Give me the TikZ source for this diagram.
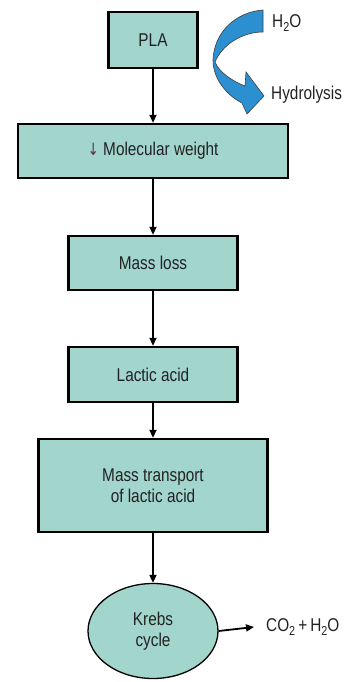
\documentclass[tikz,border=0pt]{standalone}
\usepackage{fontspec}
\setmainfont{Liberation Sans}[FakeStretch=0.83]
\usetikzlibrary{shapes.geometric,arrows.meta}
\definecolor{boxfill}{HTML}{A2D5CC}
\definecolor{ink}{HTML}{222222}
\definecolor{hydroblue}{HTML}{2B8FD0}
\definecolor{downred}{HTML}{5B3440}
\newcommand{\subtwo}{\raisebox{-0.35ex}{\fontsize{13}{13}\selectfont 2}}

\begin{document}
\begin{tikzpicture}[x=1pt,y=-1pt,
  stagebox/.style={draw=black, line width=2.4pt, fill=boxfill, text=ink,
    font=\fontsize{18.5}{21}\selectfont, align=center, inner sep=0pt},
  flow/.style={draw=black, line width=1.8pt, -{Triangle[length=8pt,width=7pt]}},
  plaintext/.style={text=ink, font=\fontsize{18.5}{21}\selectfont, inner sep=0pt, anchor=west}]

\useasboundingbox (0,0) rectangle (350,682);

% process stages
\node[stagebox, minimum width=89pt, minimum height=56pt] (pla) at (153,40) {PLA};
\node[stagebox, minimum width=270pt, minimum height=54pt] (mw) at (153,151)
  {{\color{downred}\fontspec{DejaVu Sans}[FakeStretch=0.8]\fontsize{17}{20}\selectfont ↓} Molecular weight};
\node[stagebox, minimum width=169pt, minimum height=54pt] (loss) at (153,263) {Mass loss};
\node[stagebox, minimum width=169pt, minimum height=55pt] (lactic) at (153,374.5) {Lactic acid};
\node[stagebox, minimum width=229pt, minimum height=93pt] (transport) at (153,485.5)
  {Mass transport\\of lactic acid};
\node[stagebox, ellipse, line width=1.3pt, minimum width=130pt, minimum height=95pt] (krebs) at (153,631)
  {Krebs\\cycle};

% side labels
\node[plaintext] (water) at (272,23) {H\subtwo O};
\node[plaintext] (hydro) at (271,95) {Hydrolysis};
\node[plaintext] (prod) at (266,627) {CO\subtwo\,+\,H\subtwo O};

% curved hydrolysis arrow
\draw[fill=hydroblue, draw=black!75, line width=0.6pt]
  (263,10) .. controls (236,12) and (214,32) .. (213,60)
  .. controls (213,80) and (228,96) .. (242,103)
  -- (247,114) -- (264,96) -- (246,72) -- (245,86)
  .. controls (232,81) and (219,72) .. (215,62)
  .. controls (222,45) and (242,32) .. (263,32) -- cycle;

% connectors
\draw[flow] (pla) -- (mw);
\draw[flow] (mw) -- (loss);
\draw[flow] (loss) -- (lactic);
\draw[flow] (lactic) -- (transport);
\draw[flow] (transport) -- (krebs);
\draw[flow] (krebs.east) -- ([xshift=-12pt]prod.west);
\end{tikzpicture}
\end{document}
